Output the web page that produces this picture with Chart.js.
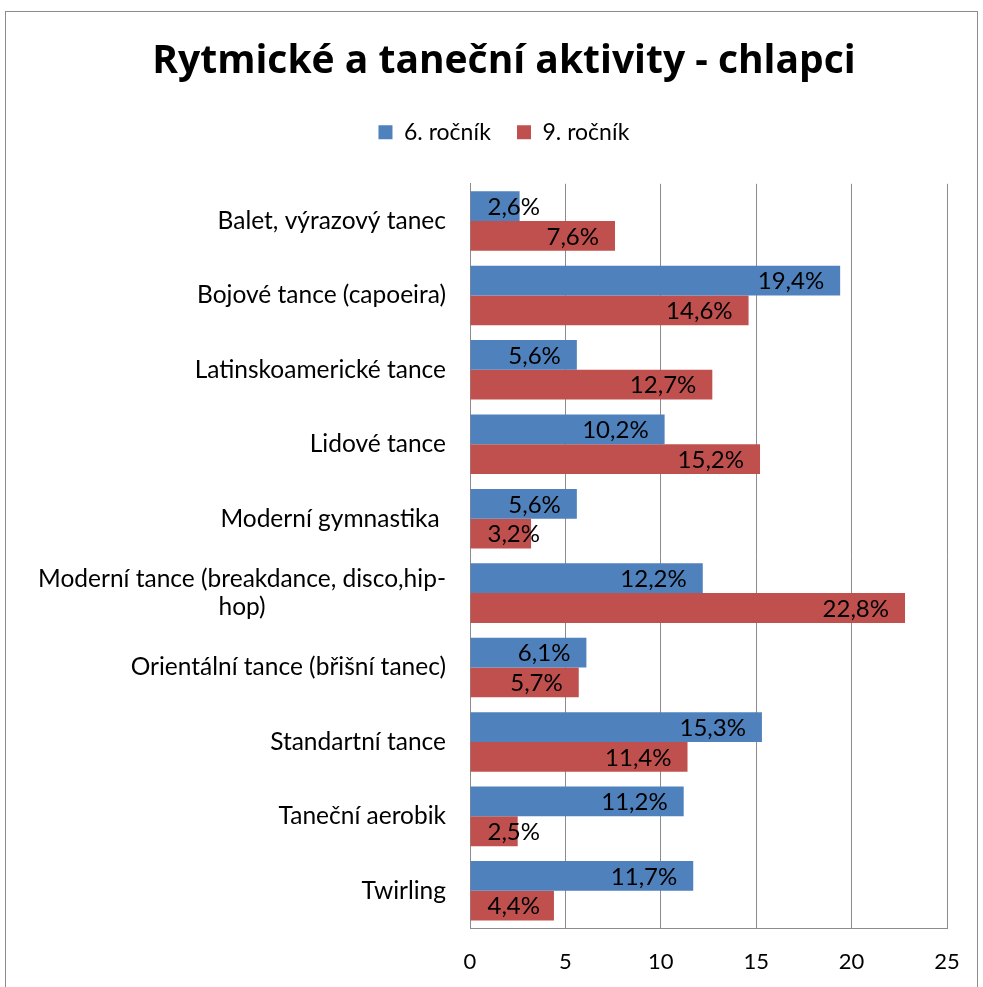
<!DOCTYPE html>
<html>
<head>
<meta charset="utf-8">
<script src="https://cdn.jsdelivr.net/npm/chart.js@4/dist/chart.umd.min.js"></script>
<style>
  html, body { margin: 0; padding: 0; background: #fff; overflow: hidden; }
  #wrap { width: 983px; height: 987px; }
</style>
</head>
<body>
<div id="wrap"><canvas id="graf"></canvas></div>
<script>
// kategorie a hodnoty (v %)
var kategorie = [
    'Balet, výrazový tanec',
    'Bojové tance (capoeira)',
    'Latinskoamerické tance',
    'Lidové tance',
    'Moderní gymnastika ',
    ['Moderní tance (breakdance, disco,hip-', 'hop)'],
    'Orientální tance (břišní tanec)',
    'Standartní tance',
    'Taneční aerobik',
    'Twirling'
];
var rocnik6 = [2.6, 19.4, 5.6, 10.2, 5.6, 12.2, 6.1, 15.3, 11.2, 11.7];
var rocnik9 = [7.6, 14.6, 12.7, 15.2, 3.2, 22.8, 5.7, 11.4, 2.5, 4.4];
var osaX = [0, 5, 10, 15, 20, 25];

var PISMO = 'Lato, sans-serif';
Chart.defaults.font.family = PISMO;
Chart.defaults.color = '#000';

// ramecek kolem grafu
var ramecek = {
    id: 'ramecek',
    beforeDraw: function (chart) {
        var ctx = chart.ctx;
        ctx.save();
        ctx.fillStyle = '#fff';
        ctx.fillRect(0, 0, chart.width, chart.height);
        ctx.strokeStyle = '#8c8c8c';
        ctx.lineWidth = 1;
        ctx.strokeRect(5.5, 11.5, 972, 1000);
        ctx.restore();
    }
};

// vetsi mezera pod legendou
var mezeraLegendy = {
    id: 'mezeraLegendy',
    beforeInit: function (chart) {
        var puvodni = chart.legend.fit;
        chart.legend.fit = function () {
            puvodni.bind(chart.legend)();
            this.height += 30;
        };
    }
};

// popisky kategorii - radky centrovane v bloku zarovnanem doprava
var popiskyOsy = {
    id: 'popiskyOsy',
    afterDraw: function (chart) {
        var ctx = chart.ctx;
        var y = chart.scales.y;
        var prava = chart.chartArea.left - 24;
        ctx.save();
        ctx.font = '24.5px ' + PISMO;
        ctx.fillStyle = '#000';
        ctx.textBaseline = 'middle';
        ctx.textAlign = 'center';
        kategorie.forEach(function (k, i) {
            var radky = Array.isArray(k) ? k : [k];
            var sirka = 0;
            radky.forEach(function (r) { sirka = Math.max(sirka, ctx.measureText(r).width); });
            var stred = prava - sirka / 2;
            var vyska = 28;
            var cy = y.getPixelForValue(i) - (radky.length - 1) * vyska / 2;
            radky.forEach(function (r, j) {
                ctx.fillText(r, stred, cy + j * vyska);
            });
        });
        ctx.restore();
    }
};

// hodnoty u konce sloupcu
var hodnoty = {
    id: 'hodnoty',
    afterDatasetsDraw: function (chart) {
        var ctx = chart.ctx;
        ctx.save();
        ctx.font = '24px ' + PISMO;
        ctx.fillStyle = '#000';
        ctx.textBaseline = 'middle';
        ctx.textAlign = 'left';
        chart.data.datasets.forEach(function (ds, di) {
            var meta = chart.getDatasetMeta(di);
            meta.data.forEach(function (bar, i) {
                var text = ds.data[i].toFixed(1).replace('.', ',') + '%';
                var w = ctx.measureText(text).width;
                var x = bar.x - 16 - w;
                if (x < bar.base + 17) x = bar.base + 17;
                ctx.fillText(text, x, bar.y + 1);
            });
        });
        ctx.restore();
    }
};

new Chart(document.getElementById('graf'), {
    type: 'bar',
    data: {
        labels: kategorie,
        datasets: [{
            label: '6. ročník',
            data: rocnik6,
            backgroundColor: '#4F81BD'
        }, {
            label: '9. ročník',
            data: rocnik9,
            backgroundColor: '#C0504D'
        }]
    },
    options: {
        indexAxis: 'y',
        responsive: true,
        maintainAspectRatio: false,
        animation: false,
        layout: {
            padding: { left: 61, right: 36, top: 0, bottom: 0 }
        },
        datasets: {
            bar: { categoryPercentage: 0.8, barPercentage: 1.0 }
        },
        scales: {
            x: {
                min: 0,
                max: 25,
                afterBuildTicks: function (axis) {
                    axis.ticks = osaX.map(function (v) { return { value: v }; });
                },
                afterFit: function (axis) { axis.height = 59; },
                grid: { color: '#8c8c8c', drawTicks: false },
                border: { color: '#8c8c8c' },
                ticks: {
                    padding: 21,
                    font: { size: 22 },
                    color: '#000',
                    maxRotation: 0
                }
            },
            y: {
                grid: { display: false, drawTicks: false },
                border: { color: '#8c8c8c' },
                ticks: { color: 'transparent', font: { size: 20 } },
                afterFit: function (axis) { axis.width = 409; }
            }
        },
        plugins: {
            title: {
                display: true,
                text: 'Rytmické a taneční aktivity - chlapci',
                color: '#000',
                font: { family: '"Open Sans", sans-serif', size: 39, weight: 'bold' },
                padding: { top: 38, bottom: 10 }
            },
            legend: {
                display: true,
                position: 'top',
                labels: {
                    boxWidth: 14,
                    boxHeight: 14,
                    padding: 26,
                    color: '#000',
                    font: { size: 23 }
                }
            },
            tooltip: { enabled: false }
        }
    },
    plugins: [ramecek, mezeraLegendy, popiskyOsy, hodnoty]
});
</script>
</body>
</html>
